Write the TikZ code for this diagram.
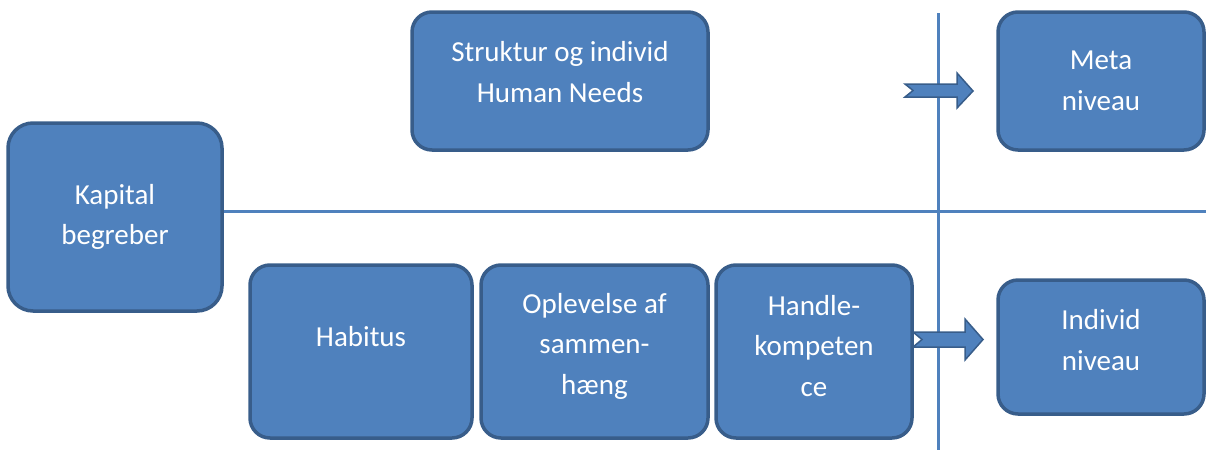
\documentclass[tikz,border=0pt]{standalone}
\usepackage{fontspec}
\setmainfont{Carlito}
\definecolor{boxfill}{HTML}{4F81BD}
\definecolor{boxedge}{HTML}{385D8A}
\tikzset{
  box/.style={draw=boxedge, fill=boxfill, line width=3.5pt, rounded corners=20pt, inner sep=0pt},
  lbl/.style={text=white, align=center, font=\fontsize{29}{40.5}\selectfont, inner sep=0pt},
  divider/.style={draw=boxfill, line width=3pt},
  arr/.style={draw=boxedge, fill=boxfill, line width=1.5pt, line join=miter}
}
\begin{document}
\begin{tikzpicture}[x=1pt,y=-1pt]
\useasboundingbox (0,0) rectangle (1206,450);
% dividers
\coordinate (hR) at (1206,211);
\coordinate (vT) at (938,13);
\coordinate (vB) at (938,450);
% boxes
\node[box, minimum width=214pt, minimum height=188pt, rounded corners=25pt] (kap) at (115,217) {};
\node[box, minimum width=296pt, minimum height=138pt] (struk) at (560,81) {};
\node[box, minimum width=206pt, minimum height=138pt] (meta) at (1101,81) {};
\node[box, minimum width=222pt, minimum height=173pt] (hab) at (361,351.5) {};
\node[box, minimum width=227pt, minimum height=173pt] (opl) at (594.5,351.5) {};
\node[box, minimum width=196pt, minimum height=173pt] (han) at (814,351.5) {};
\node[box, minimum width=206pt, minimum height=134pt] (ind) at (1101,347) {};
\draw[divider] (kap.east |- 0,211) -- (hR);
\draw[divider] (vT) -- (vB);
% labels
\node[lbl] (kapL) at (115,217) {Kapital\\begreber};
\node[lbl] (strukL) at (560,72) {Struktur og individ\\Human Needs};
\node[lbl] (metaL) at (1101,81) {Meta\\niveau};
\node[lbl] (habL) at (361,337) {Habitus};
\node[lbl] (oplL) at (594.5,346) {Oplevelse af\\sammen-\\hæng};
\node[lbl] (hanL) at (814,346) {Handle-\\kompeten\\ce};
\node[lbl] (indL) at (1101,340) {Individ\\niveau};
% arrows
\draw[arr] (905,84) -- (957,84) -- (957,73) -- (973,91) -- (957,108) -- (957,97) -- (905,97) -- (913,90.5) -- cycle;
\draw[arr] (913,332) -- (965,332) -- (965,319) -- (983,339.5) -- (965,360) -- (965,347) -- (913,347) -- (922,339.5) -- cycle;
\end{tikzpicture}
\end{document}
